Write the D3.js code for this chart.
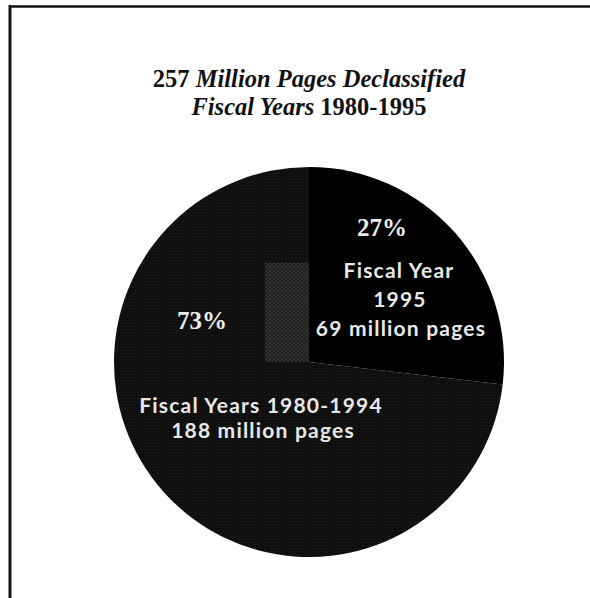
<!DOCTYPE html>
<html>
<head>
<meta charset="utf-8">
<script src="https://cdn.jsdelivr.net/npm/d3@7"></script>
<style>
  html, body { margin: 0; padding: 0; background: #ffffff; }
  svg { display: block; }
</style>
</head>
<body>
<svg id="chart" width="590" height="598"></svg>
<script>
// Declassified pages, in millions, by period
const periods = ["Fiscal Years 1980-1994", "Fiscal Year 1995"];
const pages = [188, 69];
const percents = ["73%", "27%"];
const detailLines = [
  ["Fiscal Years 1980-1994", "188 million pages"],
  ["Fiscal Year", "1995", "69 million pages"]
];
const titleLines = [
  [["257 ", false], ["Million Pages Declassified", true]],
  [["Fiscal Years ", true], ["1980-1995", false]]
];

const W = 590, H = 598;
const cx = 309, cy = 362, R = 195;
const svg = d3.select("#chart");

// page frame (top and left rules)
svg.append("line").attr("x1", 9).attr("x2", W).attr("y1", 6.5).attr("y2", 6.5)
  .attr("stroke", "#111").attr("stroke-width", 2.5);
svg.append("line").attr("x1", 10).attr("x2", 10).attr("y1", 5).attr("y2", H)
  .attr("stroke", "#111").attr("stroke-width", 3);

// title
const title = svg.append("text")
  .attr("text-anchor", "middle")
  .attr("font-family", "'Liberation Serif', 'DejaVu Serif', serif")
  .attr("font-weight", "bold")
  .attr("font-size", 24.5)
  .attr("fill", "#111");
titleLines.forEach((parts, i) => {
  const line = title.append("tspan").attr("x", cx).attr("y", 87 + i * 28);
  parts.forEach(([t, it]) => line.append("tspan").attr("font-style", it ? "italic" : "normal").text(t));
});

// fine dot texture for the larger slice
const defs = svg.append("defs");
const pat = defs.append("pattern").attr("id", "grain").attr("width", 3).attr("height", 3)
  .attr("patternUnits", "userSpaceOnUse");
pat.append("rect").attr("width", 3).attr("height", 3).attr("fill", "#0f0f0f");
pat.append("rect").attr("width", 1).attr("height", 1).attr("fill", "#1c1c1c");
const hatch = defs.append("pattern").attr("id", "hatch").attr("width", 4).attr("height", 4)
  .attr("patternUnits", "userSpaceOnUse");
hatch.append("rect").attr("width", 4).attr("height", 4).attr("fill", "#242424");
hatch.append("rect").attr("width", 2).attr("height", 2).attr("fill", "#3a3a3a");
hatch.append("rect").attr("x", 2).attr("y", 2).attr("width", 2).attr("height", 2).attr("fill", "#333");

const data = periods.map((p, i) => ({ period: p, value: pages[i], pct: percents[i], lines: detailLines[i] }));

// larger slice runs counter-clockwise from 12 o'clock; 1995 clockwise
const pie = d3.pie().value(d => d.value).sort(null)
  .startAngle(2 * Math.PI).endAngle(0);
const arcs = pie(data);
const arc = d3.arc().innerRadius(0).outerRadius(R);
const fills = ["url(#grain)", "#000000"];

const g = svg.append("g").attr("transform", `translate(${cx},${cy})`);
g.selectAll("path.slice").data(arcs).join("path")
  .attr("class", "slice")
  .attr("d", arc)
  .attr("fill", (d, i) => fills[i]);

// shaded block beside the slice edge
g.append("rect")
  .attr("x", -R * 0.225).attr("y", -R * 0.51)
  .attr("width", R * 0.225).attr("height", R * 0.51)
  .attr("fill", "url(#hatch)").attr("opacity", 0.85);

// label placement, relative to the pie centre
const labelPos = [
  { pct: [-107, -33], lines: [[-48, 51], [-46, 76]] },
  { pct: [73, -126], lines: [[90, -84], [91, -55], [92, -26]] }
];

arcs.forEach((a, i) => {
  const pos = labelPos[i];
  g.append("text")
    .attr("x", pos.pct[0]).attr("y", pos.pct[1])
    .attr("text-anchor", "middle")
    .attr("font-family", "'Liberation Serif', 'DejaVu Serif', serif")
    .attr("font-weight", "bold").attr("font-size", 25)
    .attr("fill", "#ececec")
    .text(a.data.pct);
  a.data.lines.forEach((t, j) => {
    g.append("text")
      .attr("x", pos.lines[j][0]).attr("y", pos.lines[j][1])
      .attr("text-anchor", "middle")
      .attr("font-family", "Lato, 'Open Sans', sans-serif")
      .attr("font-weight", "bold").attr("font-size", 21)
      .attr("letter-spacing", 1.2)
      .attr("fill", "#e8e8e8")
      .text(t);
  });
});
</script>
</body>
</html>
